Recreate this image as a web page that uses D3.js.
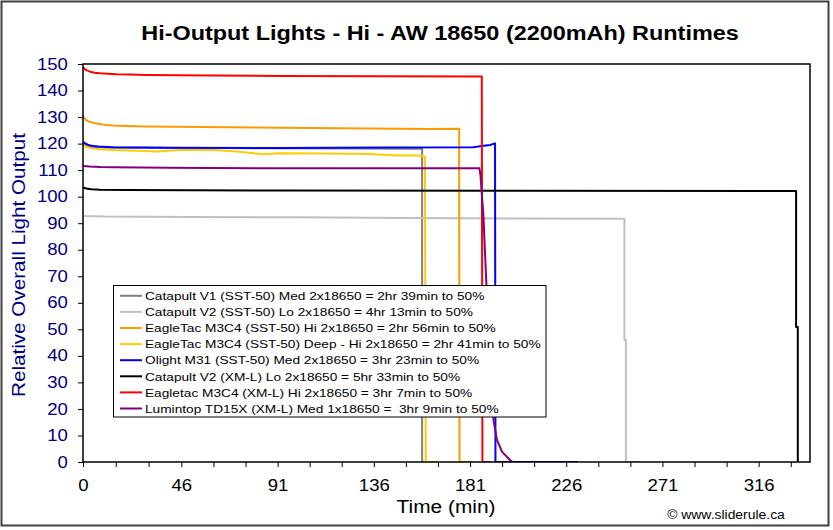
<!DOCTYPE html>
<html><head><meta charset="utf-8">
<script src="https://cdn.jsdelivr.net/npm/d3@7"></script>
<style>body{margin:0;background:#fff}svg{display:block}text{font-family:Arial,"Liberation Sans",sans-serif}</style>
</head><body><svg id="c" width="833" height="530"></svg>
<script>
// ---------- data ----------
const chartTitle = "Hi-Output Lights - Hi - AW 18650 (2200mAh) Runtimes";
const xTitle = "Time (min)";
const yTitle = "Relative Overall Light Output";
const credit = "\u00A9 www.sliderule.ca";

const seriesNames = [
  "Catapult V1 (SST-50) Med 2x18650 = 2hr 39min to 50%",
  "Catapult V2 (SST-50) Lo 2x18650 = 4hr 13min to 50%",
  "EagleTac M3C4 (SST-50) Hi 2x18650 = 2hr 56min to 50%",
  "EagleTac M3C4 (SST-50) Deep - Hi 2x18650 = 2hr 41min to 50%",
  "Olight M31 (SST-50) Med 2x18650 = 3hr 23min to 50%",
  "Catapult V2 (XM-L) Lo 2x18650 = 5hr 33min to 50%",
  "Eagletac M3C4 (XM-L) Hi 2x18650 = 3hr 7min to 50%",
  "Lumintop TD15X (XM-L) Med 1x18650 =  3hr 9min to 50%"
];
const seriesColors = ["#808080","#C0C0C0","#FF9900","#FFCC00","#0000FF","#000000","#FF0000","#800080"];

// [time (min), relative output]
const catapultV1Med = [[0,120],[1,119.5],[2.5,119],[5,118.7],[10,118.5],[20,118.4],[60,118.3],[120,118.2],[158.6,118.1],[158.6,0],[159.5,0]];
const catapultV2Lo = [[0,92.8],[2,92.7],[10,92.5],[50,92.3],[100,92.2],[150,92.0],[200,91.8],[253.2,91.7],[253.2,46],[253.9,46],[253.9,0],[260,0]];
const eagletacSSTHi = [[0,130.4],[0.7,129.6],[1.7,128.7],[3,128.2],[4.5,127.9],[6.4,127.6],[9,127.2],[14.2,126.8],[20,126.6],[29.8,126.4],[92.1,126.0],[162.3,125.5],[175.9,125.6],[176.1,0],[182.3,0]];
const eagletacDeepHi = [[0,119.5],[1.5,118.8],[3.9,118.2],[8,117.9],[14.2,117.6],[25,117.3],[34.5,117.0],[40,117.3],[45.6,117.6],[61.2,117.6],[72,117.0],[84.3,116.0],[92.1,116.4],[110.9,116.3],[134.2,116.1],[146.7,115.5],[156.1,115.5],[159.9,115.1],[160.3,0],[165.4,0]];
const olightM31Med = [[0,120.7],[1,120.1],[2.2,119.6],[3.9,119.2],[7,118.9],[14.2,118.6],[40,118.4],[92.1,118.3],[140,118.5],[182.5,118.6],[186.5,119.1],[190.4,119.5],[192.7,120.1],[192.9,0],[231.5,0]];
const catapultV2XmlLo = [[0,103.5],[1.5,103.1],[3.9,102.8],[8,102.6],[20,102.5],[92.1,102.3],[200,102.2],[333.5,102.1],[333.5,50.9],[334.3,50.9],[334.3,0]];
const eagletacXmlHi = [[0,148.8],[0.8,148.1],[1.8,147.6],[3.3,147.1],[5.5,146.7],[8,146.5],[11.5,146.3],[15.8,146.1],[22,146.0],[29.8,145.9],[60,145.7],[92,145.5],[186.5,145.3],[186.8,0],[190.4,0]];
const lumintopMed = [[0,111.6],[3,111.4],[8,111.2],[14.2,111.1],[40,110.9],[92,110.7],[185.4,110.7],[185.9,108],[187.3,92.3],[188.5,69.7],[189.9,46],[192,15.8],[193.6,8.3],[196,3.8],[199.7,0.75],[201,0]];

const seriesData = [catapultV1Med, catapultV2Lo, eagletacSSTHi, eagletacDeepHi, olightM31Med, catapultV2XmlLo, eagletacXmlHi, lumintopMed];

const xTickLabels = [0,46,91,136,181,226,271,316];
const yTickValues = [0,10,20,30,40,50,60,70,80,90,100,110,120,130,140,150];

// ---------- layout ----------
const W = 833, H = 530;
const plot = {left:83, right:810, top:64, bottom:462};
const SX = 1.16; // horizontal text stretch
const svg = d3.select("#c");

svg.append("rect").attr("x",0).attr("y",0).attr("width",W).attr("height",H).attr("fill","#fff");
svg.append("rect").attr("x",1.5).attr("y",1.5).attr("width",827).attr("height",524)
  .attr("fill","none").attr("stroke","#404040").attr("stroke-width",2);

const x = d3.scaleLinear().domain([0,340]).range([plot.left, plot.right]);
const y = d3.scaleLinear().domain([0,150]).range([plot.bottom, plot.top]);

// minor ticks: thirds between labelled ticks, plus one after the last
const xMinor = [];
for (let i=0;i<xTickLabels.length;i++){
  const a = xTickLabels[i];
  const b = i<xTickLabels.length-1 ? xTickLabels[i+1] : a + (xTickLabels[i]-xTickLabels[i-1]);
  xMinor.push(a, a+(b-a)/3);
  if (i<xTickLabels.length-1) xMinor.push(a+2*(b-a)/3);
}

svg.append("rect").attr("x",plot.left).attr("y",plot.top)
  .attr("width",plot.right-plot.left).attr("height",plot.bottom-plot.top).attr("fill","#fff");

// x axis
const xAxis = svg.append("g").attr("transform",`translate(0,${plot.bottom})`)
  .call(d3.axisBottom(x).tickValues(xMinor).tickSizeInner(5).tickSizeOuter(0).tickPadding(13)
    .tickFormat(d => xTickLabels.includes(d) ? d : ""));
xAxis.select(".domain").remove();
xAxis.selectAll("line").attr("stroke","#000");
xAxis.selectAll("text").attr("font-size",16).attr("fill","#000")
  .attr("font-family","Arial, 'Liberation Sans', sans-serif")
  .attr("transform",`scale(${SX},1)`);

// y axis
const yAxis = svg.append("g").attr("transform",`translate(${plot.left},0)`)
  .call(d3.axisLeft(y).tickValues(yTickValues).tickSizeInner(5).tickSizeOuter(0).tickPadding(8));
yAxis.select(".domain").remove();
yAxis.selectAll("line").attr("stroke","#000");
yAxis.selectAll("text").attr("font-size",16).attr("fill","#000080")
  .attr("font-family","Arial, 'Liberation Sans', sans-serif")
  .attr("transform",`scale(${SX},1)`);

svg.append("clipPath").attr("id","clip").append("rect")
  .attr("x",plot.left).attr("y",plot.top-2).attr("width",plot.right-plot.left).attr("height",plot.bottom-plot.top+2);

const line = d3.line().x(d=>x(d[0])).y(d=>y(d[1]));
const lines = svg.append("g").attr("clip-path","url(#clip)");
seriesData.forEach((s,i)=>{
  lines.append("path").datum(s).attr("d",line).attr("fill","none")
    .attr("stroke",seriesColors[i]).attr("stroke-width",2).attr("stroke-linejoin","round");
});

svg.append("rect").attr("x",plot.left).attr("y",plot.top)
  .attr("width",plot.right-plot.left).attr("height",plot.bottom-plot.top)
  .attr("fill","none").attr("stroke","#000").attr("stroke-width",1.5);

// legend
const lg = svg.append("g");
lg.append("rect").attr("x",113.5).attr("y",285.5).attr("width",432.5).attr("height",131.5)
  .attr("fill","#fff").attr("stroke","#000").attr("stroke-width",1);
seriesNames.forEach((n,i)=>{
  const ry = 295.8 + i*16.1;
  lg.append("line").attr("x1",120).attr("x2",142).attr("y1",ry).attr("y2",ry)
    .attr("stroke",seriesColors[i]).attr("stroke-width",2);
  lg.append("text").attr("transform",`translate(145,${ry}) scale(${SX},1)`)
    .attr("dy","0.36em").attr("font-size",11.8).attr("fill","#000")
    .attr("xml:space","preserve").style("white-space","pre").text(n);
});

// titles
svg.append("text").attr("transform",`translate(440,40) scale(${SX},1)`)
  .attr("text-anchor","middle").attr("font-size",20.2).attr("font-weight","bold").text(chartTitle);
svg.append("text").attr("transform",`translate(446,513) scale(${SX},1)`)
  .attr("text-anchor","middle").attr("font-size",18).text(xTitle);
svg.append("text").attr("transform",`translate(25,265) rotate(-90)`)
  .attr("text-anchor","middle").attr("font-size",18).attr("fill","#000080")
  .attr("textLength",264).attr("lengthAdjust","spacingAndGlyphs").text(yTitle);
svg.append("text").attr("transform",`translate(726,519) scale(${SX},1)`)
  .attr("text-anchor","middle").attr("font-size",12).text(credit);
</script></body></html>
